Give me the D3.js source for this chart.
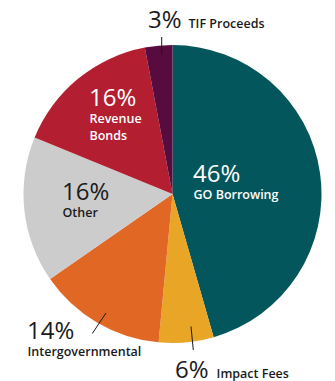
<!DOCTYPE html>
<html>
<head>
<meta charset="utf-8">
<script src="https://cdn.jsdelivr.net/npm/d3@7"></script>
<style>
  html, body { margin: 0; padding: 0; background: #fff; }
  svg { display: block; }
  .pct { font-family: "Open Sans", sans-serif; font-weight: 400; }
  .lbl { font-family: "Open Sans", sans-serif; font-weight: 600; }
</style>
</head>
<body>
<svg id="chart" width="335" height="381"></svg>
<script>
// ---- data ----
const categories = ["GO Borrowing", "Impact Fees", "Intergovernmental", "Other", "Revenue Bonds", "TIF Proceeds"];
const values = [46, 6, 14, 16, 16, 3];
const colors = ["#03565c", "#e9a526", "#e16824", "#cccccc", "#b31f30", "#570b3e"];
const labelLines = [["GO Borrowing"], ["Impact Fees"], ["Intergovernmental"], ["Other"], ["Revenue", "Bonds"], ["TIF Proceeds"]];

// ---- layout (annotation placement) ----
const W = 335, H = 381;
const cx = 172.5, cy = 194, R = 149;
const textColor = ["#ffffff", "#1a1a1a", "#1a1a1a", "#1a1a1a", "#ffffff", "#1a1a1a"];
// label layout: pct position, label mode: "below" or "inline"
const placement = [
  { x: 193, y: 182, mode: "below" },
  { x: 175, y: 377.5, mode: "inline", gap: 8 },
  { x: 27, y: 338.5, mode: "below", dy: 17.5 },
  { x: 62, y: 200, mode: "below", dy: 16.5 },
  { x: 89, y: 106, mode: "below", dy: 17 },
  { x: 148, y: 28, mode: "inline", gap: 7 }
];
const leaders = [
  null,
  [[191, 326.5], [193.3, 350]],
  [[106, 313], [92.3, 333.5]],
  null,
  null,
  [[161.7, 37], [161.7, 55]]
];

const svg = d3.select("#chart");
const g = svg.append("g").attr("transform", `translate(${cx},${cy})`);

const pie = d3.pie().sort(null).value(d => d)(values);
const arc = d3.arc().innerRadius(0).outerRadius(R);

g.selectAll("path.slice")
  .data(pie)
  .join("path")
  .attr("class", "slice")
  .attr("d", arc)
  .attr("fill", (d, i) => colors[i]);

// leader lines
leaders.forEach(l => {
  if (!l) return;
  svg.append("line")
    .attr("x1", l[0][0]).attr("y1", l[0][1])
    .attr("x2", l[1][0]).attr("y2", l[1][1])
    .attr("stroke", "#1a1a1a").attr("stroke-width", 1);
});

const fmt = d3.format(".0f");
categories.forEach((c, i) => {
  const p = placement[i];
  const pctText = svg.append("text")
    .attr("class", "pct")
    .attr("x", p.x).attr("y", p.y)
    .attr("font-size", 24)
    .attr("fill", textColor[i])
    .text(fmt(values[i]) + "%");
  if (p.mode === "inline") {
    const w = pctText.node().getComputedTextLength();
    svg.append("text")
      .attr("class", "lbl")
      .attr("x", p.x + w + p.gap).attr("y", p.y)
      .attr("font-size", 12.5)
      .attr("fill", textColor[i])
      .text(labelLines[i][0]);
  } else {
    const dy = p.dy || 16.5;
    labelLines[i].forEach((ln, k) => {
      svg.append("text")
        .attr("class", "lbl")
        .attr("x", p.x + 0.5).attr("y", p.y + dy * (k + 1))
        .attr("font-size", 12.5)
        .attr("fill", textColor[i])
        .text(ln);
    });
  }
});
</script>
</body>
</html>
